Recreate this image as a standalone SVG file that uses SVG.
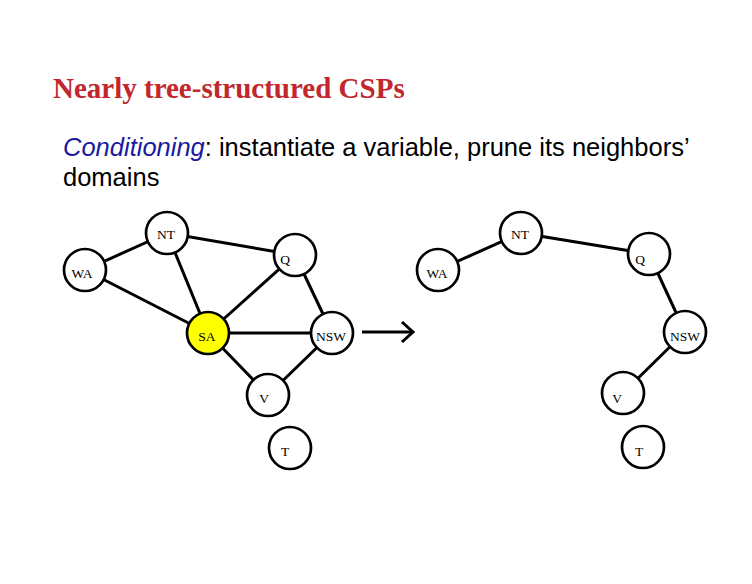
<svg xmlns="http://www.w3.org/2000/svg" width="752" height="584" viewBox="0 0 752 584">
<style>
.e{stroke:#000;stroke-width:3;fill:none}
.n{stroke:#000;stroke-width:2.7;fill:#fff}
.l{font-family:"Liberation Serif",serif;font-size:13.5px;fill:#000;text-anchor:middle}
</style>
<rect width="752" height="584" fill="#fff"/>
<text x="53" y="98" font-family="Liberation Serif,serif" font-weight="bold" font-size="29" fill="#c1272d">Nearly tree-structured CSPs</text>
<text x="63" y="156" font-family="Liberation Sans,Arial,sans-serif" font-size="25.5" fill="#000"><tspan font-style="italic" fill="#1a1a9e">Conditioning</tspan>: instantiate a variable, prune its neighbors’</text>
<text x="63" y="186" font-family="Liberation Sans,Arial,sans-serif" font-size="25.5" fill="#000">domains</text>
<g id="connectors">
<line class="e" x1="85" y1="270" x2="167" y2="233"/>
<line class="e" x1="167" y1="233" x2="295" y2="255"/>
<line class="e" x1="167" y1="233" x2="208" y2="333"/>
<line class="e" x1="85" y1="270" x2="208" y2="333"/>
<line class="e" x1="295" y1="255" x2="208" y2="333"/>
<line class="e" x1="295" y1="255" x2="332" y2="333"/>
<line class="e" x1="208" y1="333" x2="332" y2="333"/>
<line class="e" x1="208" y1="333" x2="268" y2="395"/>
<line class="e" x1="332" y1="333" x2="268" y2="395"/>
<line class="e" x1="438" y1="270" x2="521" y2="233"/>
<line class="e" x1="521" y1="233" x2="649" y2="254"/>
<line class="e" x1="649" y1="254" x2="685" y2="332"/>
<line class="e" x1="685" y1="332" x2="623" y2="393"/>
<line class="e" x1="362" y1="332" x2="413" y2="332"/>
<polyline class="e" points="402,322 413,332 402,342"/>
</g>
<g id="L_NT"><circle class="n" cx="167" cy="233" r="21"/><text class="l" x="166" y="239">NT</text></g>
<g id="L_WA"><circle class="n" cx="85" cy="270" r="21"/><text class="l" x="82" y="278">WA</text></g>
<g id="L_Q"><circle class="n" cx="295" cy="255" r="21"/><text class="l" x="285" y="264">Q</text></g>
<g id="L_SA"><circle class="n" cx="208" cy="333" r="21" style="fill:#ffff00"/><text class="l" x="207" y="341">SA</text></g>
<g id="L_NSW"><circle class="n" cx="332" cy="333" r="21"/><text class="l" x="331" y="341">NSW</text></g>
<g id="L_V"><circle class="n" cx="268" cy="395" r="21"/><text class="l" x="264" y="403">V</text></g>
<g id="L_T"><circle class="n" cx="290" cy="448" r="21"/><text class="l" x="285" y="456">T</text></g>
<g id="R_NT"><circle class="n" cx="521" cy="233" r="21"/><text class="l" x="520" y="239">NT</text></g>
<g id="R_WA"><circle class="n" cx="438" cy="270" r="21"/><text class="l" x="437" y="278">WA</text></g>
<g id="R_Q"><circle class="n" cx="649" cy="254" r="21"/><text class="l" x="640" y="264">Q</text></g>
<g id="R_NSW"><circle class="n" cx="685" cy="332" r="21"/><text class="l" x="685" y="341">NSW</text></g>
<g id="R_V"><circle class="n" cx="623" cy="393" r="21"/><text class="l" x="617" y="403">V</text></g>
<g id="R_T"><circle class="n" cx="643" cy="447" r="21"/><text class="l" x="639" y="456">T</text></g>
</svg>
